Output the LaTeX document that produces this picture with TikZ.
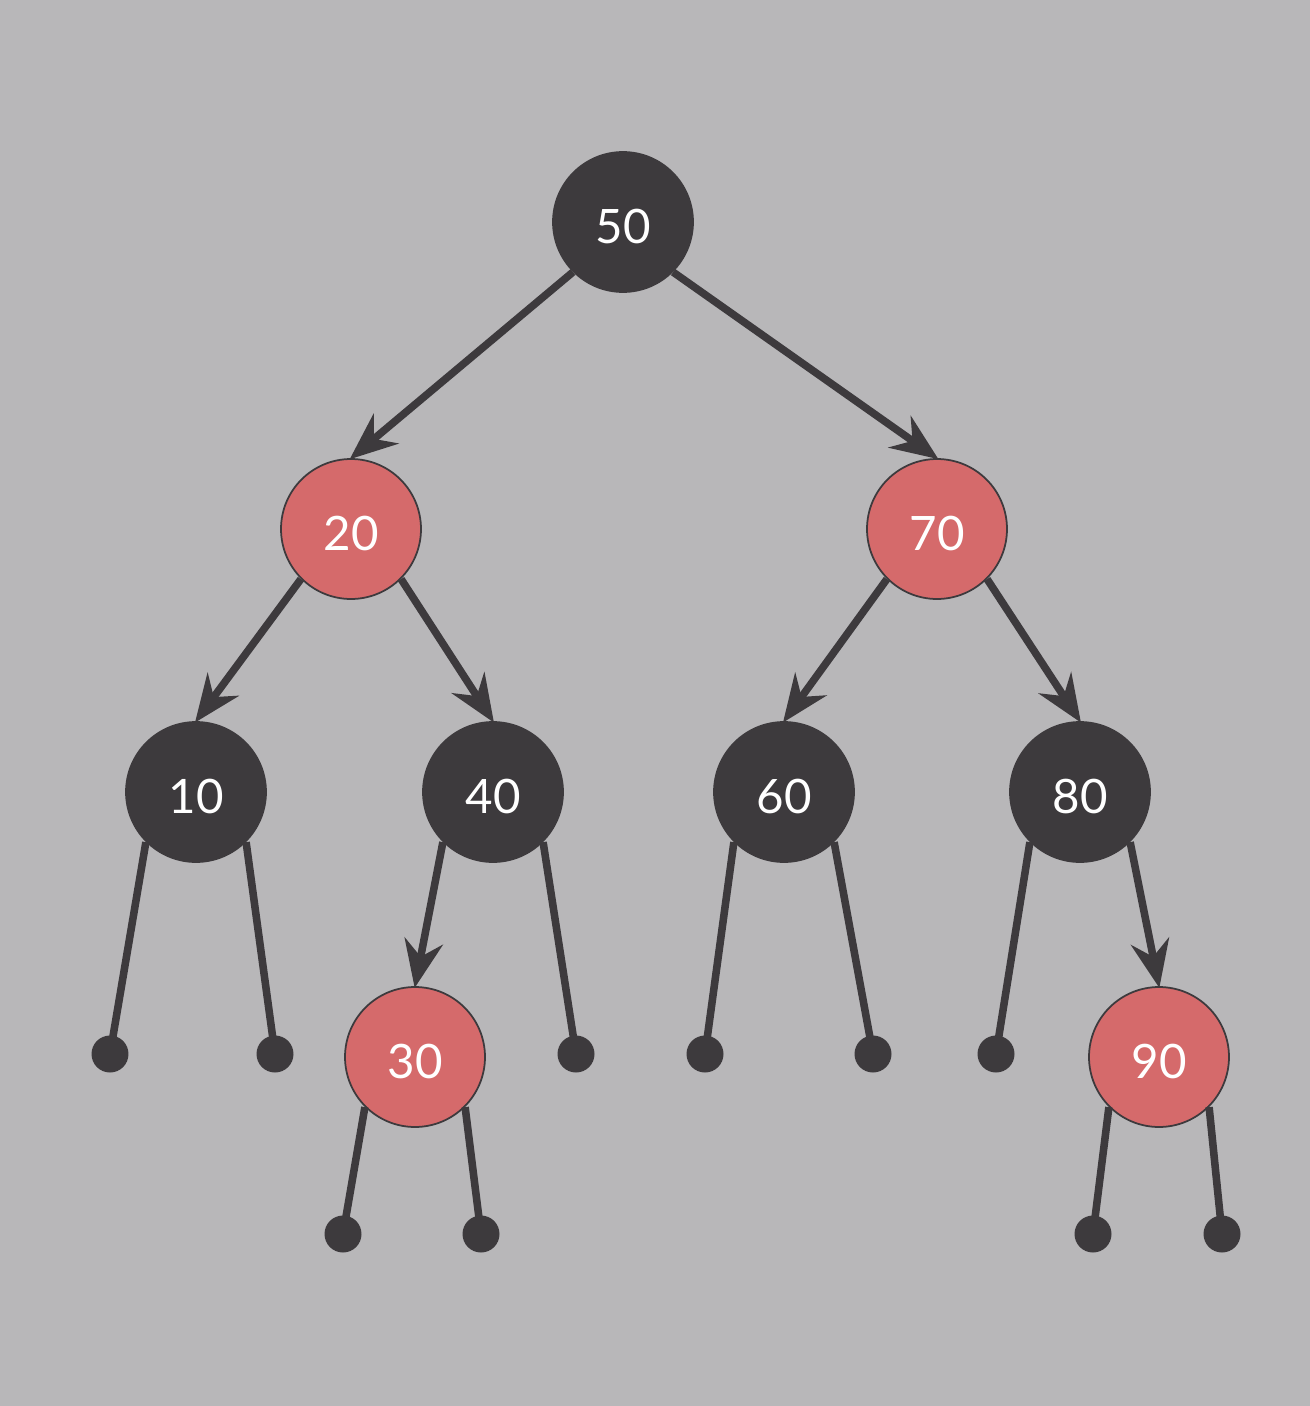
\documentclass[tikz,border=0pt]{standalone}
\usepackage{fontspec}
\setmainfont{Lato}
\usetikzlibrary{arrows.meta}
\definecolor{bg}{HTML}{B8B7B9}
\definecolor{dk}{HTML}{3D3A3D}
\definecolor{rd}{HTML}{D56A6B}
\tikzset{
  tnode/.style={circle, minimum size=2.8cm, inner sep=0pt, draw=dk, line width=1pt,
    text=white, font=\fontsize{27}{30}\selectfont, text height=24pt, text depth=0pt},
  blk/.style={tnode, fill=dk},
  redn/.style={tnode, fill=rd},
  leaf/.style={circle, fill=dk, minimum size=0.74cm, inner sep=0pt},
  edge/.style={draw=dk, line width=4.3pt},
  arr/.style={edge, -{Stealth[length=27pt, width=22pt, inset=9pt]}, shorten >=-1pt},
}
\begin{document}
\begin{tikzpicture}[x=0.02cm, y=-0.02cm]
\fill[bg] (0,0) rectangle (1310,1406);
\useasboundingbox (0,0) rectangle (1310,1406);
\node[blk] (n50) at (623,222) {50};
\node[redn] (n20) at (351,529) {20};
\node[redn] (n70) at (937,529) {70};
\node[blk] (n10) at (196,792) {10};
\node[blk] (n40) at (493,792) {40};
\node[blk] (n60) at (784,792) {60};
\node[blk] (n80) at (1080,792) {80};
\node[redn] (n30) at (415,1057) {30};
\node[redn] (n90) at (1159,1057) {90};
\node[leaf] (l1) at (110,1054) {};
\node[leaf] (l2) at (275,1054) {};
\node[leaf] (l3) at (576,1054) {};
\node[leaf] (l4) at (705,1054) {};
\node[leaf] (l5) at (873,1054) {};
\node[leaf] (l6) at (996,1054) {};
\node[leaf] (l7) at (343,1234) {};
\node[leaf] (l8) at (481,1234) {};
\node[leaf] (l9) at (1093,1234) {};
\node[leaf] (l10) at (1222,1234) {};
\draw[arr] (n50.south west) -- (n20.north);
\draw[arr] (n50.south east) -- (n70.north);
\draw[arr] (n20.south west) -- (n10.north);
\draw[arr] (n20.south east) -- (n40.north);
\draw[arr] (n70.south west) -- (n60.north);
\draw[arr] (n70.south east) -- (n80.north);
\draw[arr] (n40.south west) -- (n30.north);
\draw[arr] (n80.south east) -- (n90.north);
\draw[edge] (n10.south west) -- (l1.center);
\draw[edge] (n10.south east) -- (l2.center);
\draw[edge] (n40.south east) -- (l3.center);
\draw[edge] (n60.south west) -- (l4.center);
\draw[edge] (n60.south east) -- (l5.center);
\draw[edge] (n80.south west) -- (l6.center);
\draw[edge] (n30.south west) -- (l7.center);
\draw[edge] (n30.south east) -- (l8.center);
\draw[edge] (n90.south west) -- (l9.center);
\draw[edge] (n90.south east) -- (l10.center);
\end{tikzpicture}
\end{document}
